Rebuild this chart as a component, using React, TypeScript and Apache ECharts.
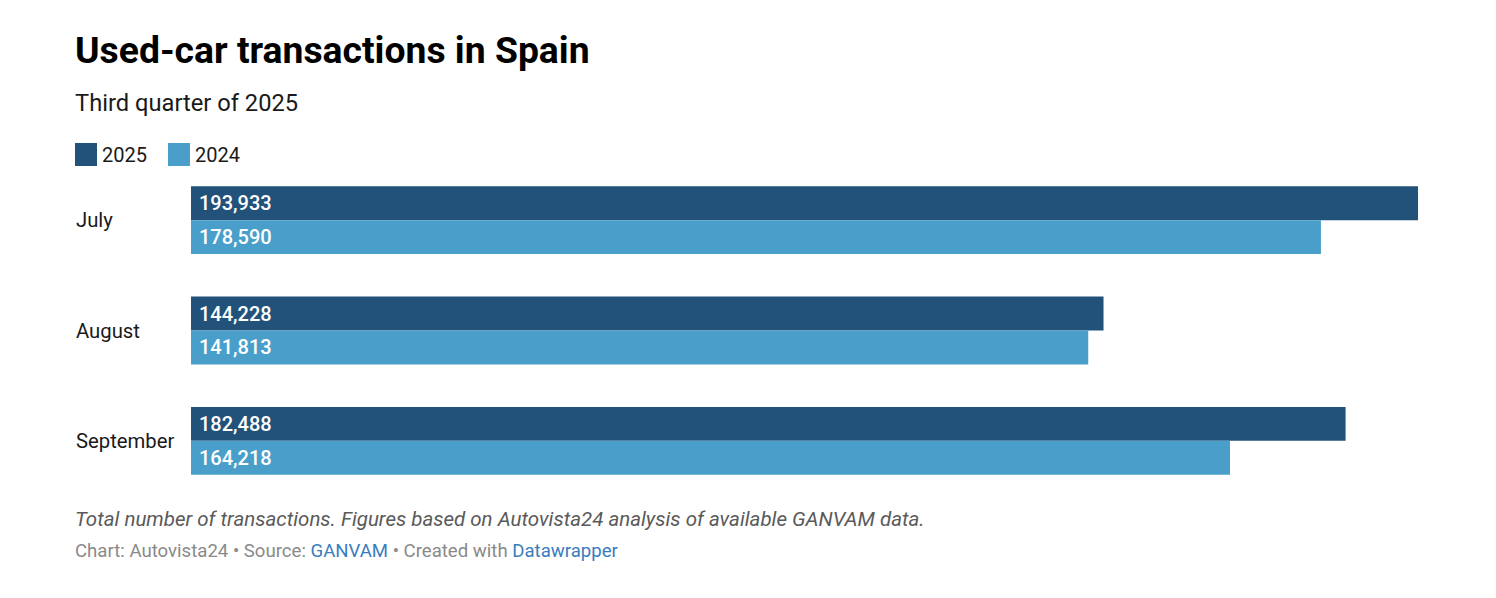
import React, { useEffect, useRef } from "react";
import * as echarts from "echarts";

const categories = ["July", "August", "September"];
const values2025 = [193933, 144228, 182488];
const values2024 = [178590, 141813, 164218];
const seriesNames = ["2025", "2024"];

const FONT = "Roboto, 'Noto Sans', sans-serif";

export default function App() {
  const ref = useRef<HTMLDivElement>(null);
  useEffect(() => {
    if (!ref.current) return;
    const chart = echarts.init(ref.current, null, { renderer: "svg" });
    const fmt = (v: number) => v.toLocaleString("en-US");
    const labelStyle = {
      show: true,
      position: "insideLeft",
      distance: 8,
      color: "#ffffff",
      fontSize: 20,
      fontWeight: 500,
      fontFamily: FONT,
      formatter: (p: any) => fmt(p.value),
    };
    chart.setOption({
      animation: false,
      backgroundColor: "#ffffff",
      textStyle: { fontFamily: FONT },
      legend: {
        left: 70,
        top: 138,
        itemWidth: 22,
        itemHeight: 23,
        itemGap: 21,
        icon: "rect",
        textStyle: { fontSize: 20, color: "#1a1a1a", fontFamily: FONT },
        data: seriesNames,
      },
      grid: { left: 191, right: 1496 - 1418, top: 165, bottom: 598 - 496, containLabel: false },
      xAxis: {
        type: "value",
        min: 0,
        max: 193933,
        show: false,
      },
      yAxis: {
        type: "category",
        inverse: true,
        data: categories,
        axisLine: { show: false },
        axisTick: { show: false },
        axisLabel: {
          align: "left",
          margin: 115,
          fontSize: 20.3,
          color: "#1a1a1a",
          fontFamily: FONT,
        },
      },
      series: [
        {
          name: seriesNames[0],
          type: "bar",
          data: values2025,
          barGap: "0%",
          barCategoryGap: "38.5%",
          itemStyle: { color: "#22527a" },
          label: labelStyle,
        },
        {
          name: seriesNames[1],
          type: "bar",
          data: values2024,
          barGap: "0%",
          barCategoryGap: "38.5%",
          itemStyle: { color: "#4a9fca" },
          label: labelStyle,
        },
      ],
      graphic: [
        {
          type: "text",
          left: 75,
          top: 31,
          style: {
            text: "Used-car transactions in Spain",
            fontSize: 37.3,
            fontWeight: "bold",
            fill: "#000000",
            fontFamily: FONT,
          },
        },
        {
          type: "text",
          left: 75,
          top: 91,
          style: {
            text: "Third quarter of 2025",
            fontSize: 23.7,
            fill: "#1a1a1a",
            fontFamily: FONT,
          },
        },
        {
          type: "text",
          left: 75,
          top: 509,
          style: {
            text: "Total number of transactions. Figures based on Autovista24 analysis of available GANVAM data.",
            fontSize: 20.5,
            fontStyle: "italic",
            fill: "#5a5a5a",
            fontFamily: FONT,
          },
        },
        {
          type: "text",
          left: 75,
          top: 541,
          style: {
            text: "{g|Chart: Autovista24 • Source: }{b|GANVAM}{g| • Created with }{b|Datawrapper}",
            fontFamily: FONT,
            rich: {
              g: { fontSize: 18.6, fill: "#8a8a8a", color: "#8a8a8a", fontFamily: FONT },
              b: { fontSize: 18.6, fill: "#3a7dbd", color: "#3a7dbd", fontFamily: FONT },
            },
          },
        },
      ],
    });
    return () => chart.dispose();
  }, []);
  return (
    <div
      ref={ref}
      style={{ position: "fixed", left: 0, top: 0, width: 1496, height: 598, background: "#fff" }}
    />
  );
}
